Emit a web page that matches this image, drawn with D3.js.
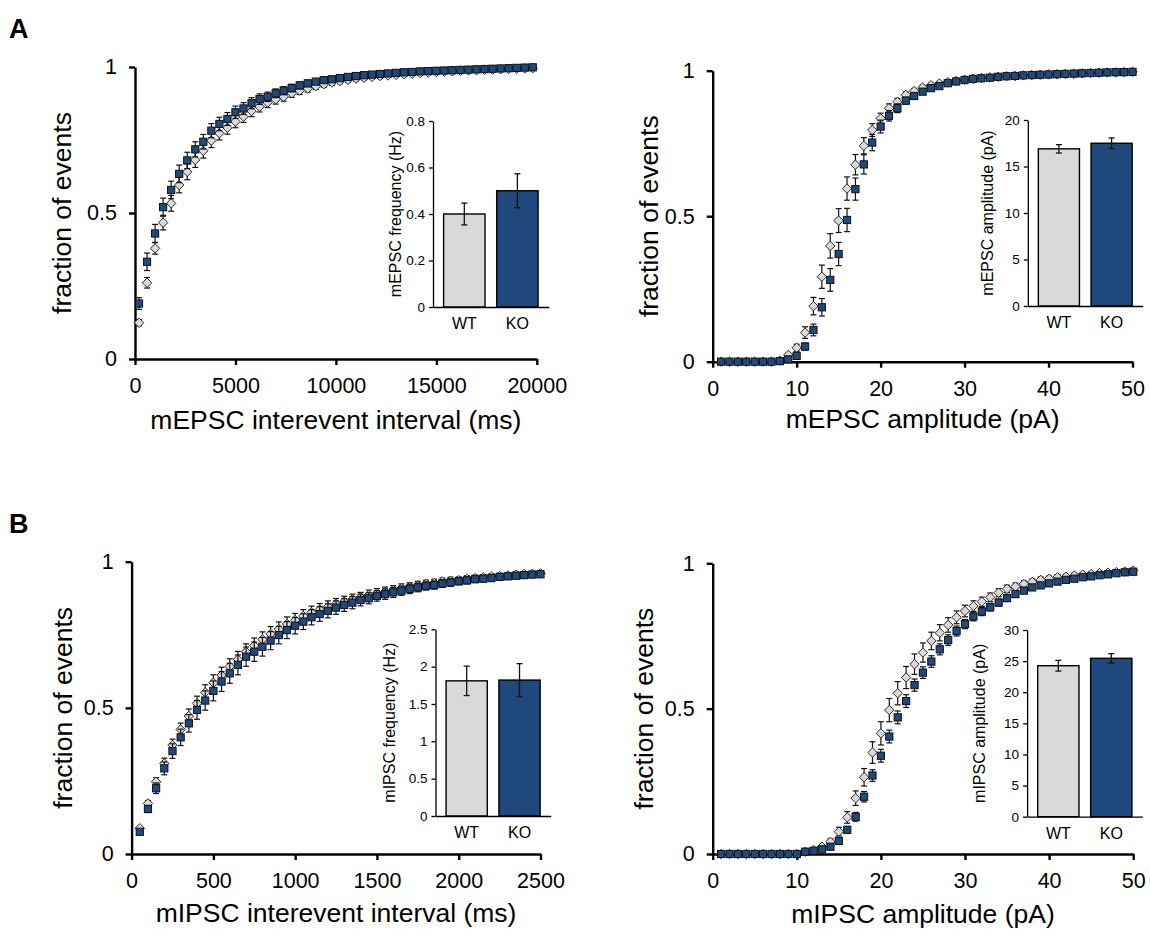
<!DOCTYPE html>
<html><head><meta charset="utf-8">
<script src="https://cdn.jsdelivr.net/npm/d3@7"></script>
<style>
body{margin:0;background:#fff}
svg{display:block;background:#fff}
text{font-family:"Liberation Sans",Arial,Helvetica,sans-serif}
</style>
</head><body>
<svg id="fig" width="1150" height="929"></svg>
<script>
// ---------------- DATA ----------------
const groups = ["WT", "KO"];
const mainYTicks = [0, 0.5, 1];

// A left: mEPSC interevent interval
const aIntX = [200,600,1000,1400,1800,2200,2600,3000,3400,3800,4200,4600,5000,5400,5800,6200,6600,7000,7400,7800,8200,8600,9000,9400,9800,10200,10600,11000,11400,11800,12200,12600,13000,13400,13800,14200,14600,15000,15400,15800,16200,16600,17000,17400,17800,18200,18600,19000,19400,19800];
const aIntWT = [0.124,0.261,0.379,0.467,0.533,0.596,0.641,0.682,0.713,0.748,0.773,0.792,0.813,0.83,0.849,0.864,0.878,0.889,0.898,0.91,0.919,0.926,0.934,0.941,0.947,0.952,0.956,0.96,0.963,0.966,0.969,0.971,0.973,0.975,0.977,0.979,0.981,0.983,0.984,0.985,0.987,0.988,0.989,0.99,0.991,0.992,0.993,0.994,0.995,0.996];
const aIntWTErr = [0.01,0.018,0.02,0.025,0.027,0.027,0.027,0.026,0.025,0.024,0.023,0.022,0.021,0.02,0.019,0.018,0.017,0.016,0.015,0.014,0.013,0.012,0.011,0.01,0.01,0.009,0.009,0.008,0.008,0.007,0.007,0.006,0.006,0.006,0.005,0.005,0.005,0.005,0.004,0.004,0.004,0.004,0.003,0.003,0.003,0.003,0.003,0.003,0.002,0.002];
const aIntKO = [0.19,0.333,0.43,0.52,0.579,0.634,0.68,0.718,0.744,0.782,0.805,0.822,0.845,0.858,0.876,0.89,0.898,0.91,0.919,0.928,0.937,0.944,0.95,0.955,0.958,0.962,0.966,0.969,0.972,0.974,0.976,0.978,0.98,0.982,0.983,0.985,0.986,0.987,0.988,0.989,0.99,0.991,0.992,0.993,0.994,0.995,0.996,0.997,0.998,0.999];
const aIntKOErr = [0.02,0.03,0.031,0.031,0.03,0.03,0.028,0.026,0.025,0.024,0.023,0.022,0.021,0.02,0.019,0.018,0.016,0.015,0.014,0.013,0.012,0.011,0.01,0.009,0.009,0.008,0.008,0.007,0.007,0.006,0.006,0.006,0.005,0.005,0.005,0.005,0.004,0.004,0.004,0.004,0.004,0.003,0.003,0.003,0.003,0.003,0.003,0.002,0.002,0.002];
const aIntTicks = [0, 5000, 10000, 15000, 20000];
const aFreq = [0.40, 0.50];
const aFreqErr = [0.047, 0.073];
const aFreqTicks = [0, 0.2, 0.4, 0.6, 0.8];

// A right: mEPSC amplitude
const ampX = [1,2,3,4,5,6,7,8,9,10,11,12,13,14,15,16,17,18,19,20,21,22,23,24,25,26,27,28,29,30,31,32,33,34,35,36,37,38,39,40,41,42,43,44,45,46,47,48,49,50];
const aAmpWT = [0,0,0,0,0,0,0,0.004,0.023,0.048,0.1,0.191,0.292,0.398,0.485,0.595,0.677,0.742,0.796,0.836,0.871,0.893,0.917,0.93,0.942,0.95,0.956,0.961,0.965,0.969,0.972,0.975,0.977,0.979,0.981,0.982,0.984,0.985,0.986,0.987,0.988,0.989,0.99,0.991,0.992,0.993,0.994,0.994,0.995,0.996];
const aAmpWTErr = [0.001,0.001,0.001,0.001,0.001,0.001,0.001,0.003,0.006,0.012,0.02,0.03,0.04,0.042,0.041,0.04,0.035,0.028,0.022,0.018,0.015,0.012,0.01,0.009,0.008,0.007,0.007,0.006,0.006,0.005,0.005,0.005,0.005,0.004,0.004,0.004,0.004,0.004,0.004,0.003,0.003,0.003,0.003,0.003,0.003,0.003,0.003,0.003,0.003,0.003];
const aAmpKO = [0,0,0,0,0,0,0,0.002,0.008,0.02,0.052,0.109,0.187,0.281,0.37,0.487,0.593,0.678,0.753,0.808,0.845,0.871,0.897,0.913,0.928,0.94,0.947,0.957,0.963,0.968,0.972,0.974,0.976,0.979,0.981,0.982,0.984,0.985,0.986,0.987,0.988,0.989,0.99,0.991,0.992,0.993,0.994,0.995,0.995,0.996];
const aAmpKOErr = [0.001,0.001,0.001,0.001,0.001,0.001,0.001,0.002,0.005,0.008,0.012,0.02,0.03,0.039,0.04,0.04,0.038,0.033,0.028,0.022,0.018,0.015,0.012,0.01,0.009,0.008,0.007,0.006,0.006,0.005,0.005,0.005,0.005,0.004,0.004,0.004,0.004,0.004,0.004,0.003,0.003,0.003,0.003,0.003,0.003,0.003,0.003,0.003,0.003,0.003];
const ampTicks = [0, 10, 20, 30, 40, 50];
const aAmpBar = [16.9, 17.5];
const aAmpBarErr = [0.45, 0.57];
const aAmpBarTicks = [0, 5, 10, 15, 20];

// B left: mIPSC interevent interval
const bIntX = [50,100,150,200,250,300,350,400,450,500,550,600,650,700,750,800,850,900,950,1000,1050,1100,1150,1200,1250,1300,1350,1400,1450,1500,1550,1600,1650,1700,1750,1800,1850,1900,1950,2000,2050,2100,2150,2200,2250,2300,2350,2400,2450,2500];
const bIntWT = [0.088,0.173,0.247,0.31,0.373,0.426,0.472,0.515,0.553,0.586,0.612,0.641,0.666,0.692,0.713,0.734,0.753,0.769,0.787,0.8,0.814,0.826,0.836,0.846,0.855,0.863,0.871,0.878,0.886,0.892,0.897,0.903,0.909,0.914,0.919,0.924,0.927,0.932,0.935,0.937,0.941,0.944,0.946,0.949,0.951,0.953,0.956,0.958,0.959,0.96];
const bIntWTErr = [0.006,0.01,0.014,0.018,0.02,0.022,0.024,0.025,0.026,0.027,0.027,0.027,0.027,0.027,0.026,0.026,0.025,0.025,0.024,0.023,0.022,0.022,0.021,0.02,0.019,0.019,0.018,0.017,0.017,0.016,0.016,0.015,0.015,0.014,0.014,0.013,0.013,0.012,0.012,0.011,0.011,0.01,0.01,0.01,0.009,0.009,0.009,0.008,0.008,0.008];
const bIntKO = [0.076,0.154,0.225,0.293,0.352,0.399,0.447,0.493,0.525,0.558,0.59,0.618,0.647,0.675,0.692,0.709,0.73,0.749,0.766,0.781,0.795,0.81,0.821,0.832,0.843,0.852,0.86,0.869,0.875,0.883,0.889,0.895,0.901,0.907,0.912,0.917,0.92,0.925,0.929,0.933,0.936,0.94,0.942,0.944,0.948,0.95,0.952,0.954,0.956,0.957];
const bIntKOErr = [0.008,0.012,0.018,0.022,0.025,0.028,0.03,0.032,0.033,0.034,0.034,0.034,0.034,0.033,0.033,0.032,0.031,0.03,0.029,0.028,0.027,0.026,0.025,0.024,0.023,0.022,0.021,0.02,0.019,0.018,0.018,0.017,0.016,0.016,0.015,0.014,0.014,0.013,0.013,0.012,0.012,0.011,0.011,0.01,0.01,0.01,0.009,0.009,0.009,0.008];
const bIntTicks = [0, 500, 1000, 1500, 2000, 2500];
const bFreq = [1.81, 1.82];
const bFreqErr = [0.197, 0.22];
const bFreqTicks = [0, 0.5, 1, 1.5, 2, 2.5];

// B right: mIPSC amplitude
const bAmpWT = [0,0,0,0,0,0,0,0,0,0,0.008,0.014,0.025,0.042,0.077,0.126,0.192,0.264,0.349,0.415,0.495,0.553,0.607,0.653,0.693,0.733,0.761,0.788,0.814,0.836,0.853,0.868,0.883,0.899,0.912,0.92,0.929,0.936,0.943,0.947,0.952,0.954,0.958,0.961,0.963,0.966,0.968,0.97,0.972,0.975];
const bAmpWTErr = [0.001,0.001,0.001,0.001,0.001,0.001,0.001,0.001,0.001,0.001,0.003,0.005,0.008,0.01,0.015,0.02,0.025,0.03,0.037,0.04,0.04,0.04,0.038,0.035,0.033,0.03,0.028,0.025,0.022,0.02,0.018,0.016,0.015,0.014,0.013,0.012,0.011,0.01,0.01,0.009,0.009,0.008,0.008,0.007,0.007,0.007,0.006,0.006,0.006,0.006];
const bAmpKO = [0,0,0,0,0,0,0,0,0,0,0.008,0.011,0.016,0.025,0.045,0.083,0.128,0.197,0.27,0.338,0.404,0.47,0.526,0.581,0.624,0.662,0.704,0.736,0.767,0.791,0.817,0.834,0.849,0.865,0.88,0.894,0.906,0.917,0.924,0.931,0.937,0.943,0.947,0.952,0.955,0.959,0.962,0.966,0.969,0.971];
const bAmpKOErr = [0.001,0.001,0.001,0.001,0.001,0.001,0.001,0.001,0.001,0.001,0.002,0.003,0.005,0.008,0.01,0.012,0.015,0.018,0.02,0.022,0.022,0.022,0.022,0.021,0.02,0.02,0.019,0.018,0.017,0.016,0.015,0.014,0.013,0.012,0.011,0.01,0.01,0.009,0.009,0.008,0.008,0.008,0.007,0.007,0.007,0.007,0.006,0.006,0.006,0.006];
const bAmpBar = [24.26, 25.45];
const bAmpBarErr = [0.86, 0.75];
const bAmpBarTicks = [0, 5, 10, 15, 20, 25, 30];

// ---------------- STYLE ----------------
const WT_FILL = "#d9d9d9";
const KO_FILL = "#1f497d";
const FONT = '"Liberation Sans", Arial, Helvetica, sans-serif';

const panels = [
  {label:"A", labelPos:[9,38],
   xRange:[135,536.8], yRange:[359,67], xDomain:[0,20000], xTicks:aIntTicks,
   xTitle:"mEPSC interevent interval (ms)", xTitleDy:70, yTitleDx:73.5,
   xs:aIntX, wt:aIntWT, wtErr:aIntWTErr, ko:aIntKO, koErr:aIntKOErr,
   inset:{xRange:[433,548.7], yRange:[307,121], domain:[0,0.8], ticks:aFreqTicks,
     vals:aFreq, errs:aFreqErr, title:"mEPSC frequency (Hz)", titleDx:38}},
  {xRange:[712.7,1132.5], yRange:[361.7,70.7], xDomain:[0,50], xTicks:ampTicks,
   xTitle:"mEPSC amplitude (pA)", xTitleDy:66.5, yTitleDx:64,
   xs:ampX, wt:aAmpWT, wtErr:aAmpWTErr, ko:aAmpKO, koErr:aAmpKOErr,
   inset:{xRange:[1027.8,1142.7], yRange:[306,120], domain:[0,20], ticks:aAmpBarTicks,
     vals:aAmpBar, errs:aAmpBarErr, title:"mEPSC amplitude (pA)", titleDx:40}},
  {label:"B", labelPos:[9,533],
   xRange:[131.6,540.5], yRange:[854,561.7], xDomain:[0,2500], xTicks:bIntTicks,
   xTitle:"mIPSC interevent interval (ms)", xTitleDy:68, yTitleDx:69,
   xs:bIntX, wt:bIntWT, wtErr:bIntWTErr, ko:bIntKO, koErr:bIntKOErr,
   inset:{xRange:[435.5,550.7], yRange:[816,629.3], domain:[0,2.5], ticks:bFreqTicks,
     vals:bFreq, errs:bFreqErr, title:"mIPSC frequency (Hz)", titleDx:46.5}},
  {xRange:[712.7,1133.2], yRange:[854,563.3], xDomain:[0,50], xTicks:ampTicks,
   xTitle:"mIPSC amplitude (pA)", xTitleDy:69, yTitleDx:69,
   xs:ampX, wt:bAmpWT, wtErr:bAmpWTErr, ko:bAmpKO, koErr:bAmpKOErr,
   inset:{xRange:[1027.1,1142.5], yRange:[816.7,630], domain:[0,30], ticks:bAmpBarTicks,
     vals:bAmpBar, errs:bAmpBarErr, title:"mIPSC amplitude (pA)", titleDx:48}}
];

const svg = d3.select("#fig");

function styleAxis(sel, width, fontSize){
  sel.attr("font-family", FONT).attr("font-size", fontSize);
  sel.selectAll("path.domain").attr("stroke", "#000").attr("stroke-width", width);
  sel.selectAll(".tick line").attr("stroke", "#000").attr("stroke-width", width);
  sel.selectAll(".tick text").attr("fill", "#000");
}

function drawSeries(g, xs, ys, es, x, y, kind){
  const pts = xs.map((v, i) => ({x: v, y: ys[i], e: es[i]}));
  const sg = g.append("g");
  const cap = 3;
  const eb = sg.append("g").attr("stroke", "#111").attr("stroke-width", 1.2);
  eb.selectAll("line.v").data(pts).join("line").attr("class","v")
    .attr("x1", d => x(d.x)).attr("x2", d => x(d.x))
    .attr("y1", d => y(d.y - d.e)).attr("y2", d => y(d.y + d.e));
  eb.selectAll("line.t").data(pts).join("line").attr("class","t")
    .attr("x1", d => x(d.x) - cap).attr("x2", d => x(d.x) + cap)
    .attr("y1", d => y(d.y + d.e)).attr("y2", d => y(d.y + d.e));
  eb.selectAll("line.b").data(pts).join("line").attr("class","b")
    .attr("x1", d => x(d.x) - cap).attr("x2", d => x(d.x) + cap)
    .attr("y1", d => y(d.y - d.e)).attr("y2", d => y(d.y - d.e));
  if (kind === "diamond") {
    const s = 4.7;
    sg.selectAll("path.m").data(pts).join("path").attr("class","m")
      .attr("d", d => {
        const cx = x(d.x), cy = y(d.y);
        return `M${cx},${cy - s}L${cx + s},${cy}L${cx},${cy + s}L${cx - s},${cy}Z`;
      })
      .attr("fill", WT_FILL).attr("stroke", "#2a2a2a").attr("stroke-width", 1);
  } else {
    const s = 7.2;
    sg.selectAll("rect.m").data(pts).join("rect").attr("class","m")
      .attr("x", d => x(d.x) - s/2).attr("y", d => y(d.y) - s/2)
      .attr("width", s).attr("height", s)
      .attr("fill", KO_FILL).attr("stroke", "#111").attr("stroke-width", 1);
  }
}

function drawInset(g, ins){
  const bx = d3.scaleBand().domain(groups).range(ins.xRange).paddingInner(0.22).paddingOuter(0.2);
  const by = d3.scaleLinear().domain(ins.domain).range(ins.yRange);
  const data = groups.map((k, i) => ({k, v: ins.vals[i], e: ins.errs[i]}));
  g.selectAll("rect.bar").data(data).join("rect").attr("class","bar")
    .attr("x", d => bx(d.k)).attr("width", bx.bandwidth())
    .attr("y", d => by(d.v)).attr("height", d => by(0) - by(d.v))
    .attr("fill", d => d.k === "WT" ? WT_FILL : KO_FILL)
    .attr("stroke", "#000").attr("stroke-width", 1.4);
  const eb = g.append("g").attr("stroke", "#111").attr("stroke-width", 1.3);
  eb.selectAll("line.v").data(data).join("line").attr("class","v")
    .attr("x1", d => bx(d.k) + bx.bandwidth()/2).attr("x2", d => bx(d.k) + bx.bandwidth()/2)
    .attr("y1", d => by(d.v - d.e)).attr("y2", d => by(d.v + d.e));
  ["t","b"].forEach(c => {
    eb.selectAll("line." + c).data(data).join("line").attr("class", c)
      .attr("x1", d => bx(d.k) + bx.bandwidth()/2 - 3).attr("x2", d => bx(d.k) + bx.bandwidth()/2 + 3)
      .attr("y1", d => by(c === "t" ? d.v + d.e : d.v - d.e))
      .attr("y2", d => by(c === "t" ? d.v + d.e : d.v - d.e));
  });
  const ya = g.append("g").attr("transform", `translate(${ins.xRange[0]},0)`)
    .call(d3.axisLeft(by).tickValues(ins.ticks).tickFormat(d => String(d)).tickSizeInner(4).tickSizeOuter(0).tickPadding(4));
  styleAxis(ya, 1.3, 13.5);
  const xa = g.append("g").attr("transform", `translate(0,${ins.yRange[0]})`)
    .call(d3.axisBottom(bx).tickSize(0).tickPadding(10.5));
  styleAxis(xa, 1.3, 16);
  const my = (ins.yRange[0] + ins.yRange[1]) / 2;
  g.append("text")
    .attr("transform", `translate(${ins.xRange[0] - ins.titleDx},${my}) rotate(-90)`)
    .attr("text-anchor", "middle").attr("dy", "0.35em")
    .attr("font-size", 16).attr("fill", "#000").text(ins.title);
}

panels.forEach(p => {
  const g = svg.append("g");
  const x = d3.scaleLinear().domain(p.xDomain).range(p.xRange);
  const y = d3.scaleLinear().domain([0, 1]).range(p.yRange);

  drawInset(g.append("g"), p.inset);

  const xa = g.append("g").attr("transform", `translate(0,${p.yRange[0]})`)
    .call(d3.axisBottom(x).tickValues(p.xTicks).tickFormat(d => String(d)).tickSizeInner(6).tickSizeOuter(0).tickPadding(13));
  styleAxis(xa, 2.4, 21.5);
  const ya = g.append("g").attr("transform", `translate(${p.xRange[0]},0)`)
    .call(d3.axisLeft(y).tickValues(mainYTicks).tickFormat(d => String(d)).tickSizeInner(6).tickSizeOuter(0).tickPadding(12));
  styleAxis(ya, 2.4, 21.5);

  drawSeries(g, p.xs, p.wt, p.wtErr, x, y, "diamond");
  drawSeries(g, p.xs, p.ko, p.koErr, x, y, "square");

  g.append("text")
    .attr("x", (p.xRange[0] + p.xRange[1]) / 2).attr("y", p.yRange[0] + p.xTitleDy)
    .attr("text-anchor", "middle").attr("font-size", 26.5).attr("fill", "#000").text(p.xTitle);
  const my = (p.yRange[0] + p.yRange[1]) / 2;
  g.append("text")
    .attr("transform", `translate(${p.xRange[0] - p.yTitleDx},${my}) rotate(-90)`)
    .attr("text-anchor", "middle").attr("dy", "0.35em")
    .attr("font-size", 26.5).attr("fill", "#000").text("fraction of events");

  if (p.label) {
    svg.append("text").attr("x", p.labelPos[0]).attr("y", p.labelPos[1])
      .attr("font-size", 27).attr("font-weight", "bold").attr("fill", "#000").text(p.label);
  }
});
</script>
</body></html>
